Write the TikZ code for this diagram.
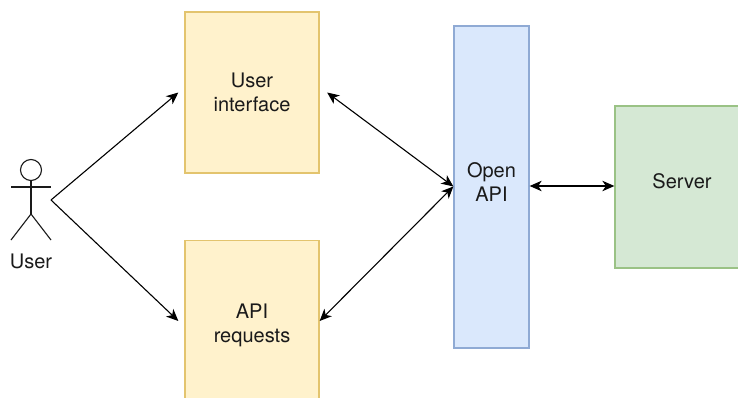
\documentclass[tikz,border=0pt]{standalone}
\usepackage{fontspec}
\setmainfont{TeX Gyre Heros}
\usetikzlibrary{arrows.meta}
\definecolor{yfill}{HTML}{FFF2CC}
\definecolor{ydraw}{HTML}{E3C46E}
\definecolor{bfill}{HTML}{DAE8FC}
\definecolor{bdraw}{HTML}{8FAAD4}
\definecolor{gfill}{HTML}{D5E8D4}
\definecolor{gdraw}{HTML}{9AC285}
\definecolor{ink}{HTML}{1A1A1A}
\tikzset{
  x=1pt,y=-1pt,
  tip/.tip={Stealth[length=12pt,width=10.5pt,inset=3.5pt]},
  caption/.style={align=center,text=ink,inner sep=0pt,font=\fontsize{20}{24}\selectfont},
  box/.style={draw,line width=1.3pt,inner sep=0pt},
  yellowbox/.style={box,fill=yfill,draw=ydraw,minimum width=134pt,minimum height=161pt},
  link/.style={line width=1.1pt,draw=black,tip-tip},
  oneway/.style={line width=1.1pt,draw=black,-tip},
  actorline/.style={line width=1.1pt,draw=ink},
}
\begin{document}
\begin{tikzpicture}
\clip (0,0) rectangle (738,398);
\node[yellowbox,label={[caption]center:User\\interface}] (ui) at (252,92.5) {};
\node[yellowbox,label={[caption,yshift=-4pt]center:API\\requests}] (req) at (252,321) {};
\node[box,fill=bfill,draw=bdraw,minimum width=75pt,minimum height=322pt,label={[caption,yshift=5pt]center:Open\\API}] (api) at (491.5,187) {};
\node[box,fill=gfill,draw=gdraw,minimum width=134pt,minimum height=162pt,label={[caption,yshift=6pt]center:Server}] (srv) at (682,187) {};
% actor
\node[circle,draw=ink,line width=1.1pt,minimum size=21pt,inner sep=0pt] (head) at (31,170) {};
\coordinate (armL) at (11,187);
\coordinate (armR) at (51,187);
\coordinate (hip) at (31,214);
\coordinate (footL) at (11,240);
\coordinate (footR) at (51,240);
\coordinate (hand) at (51,200);
\draw[actorline] (head.south) -- (hip);
\draw[actorline] (armL) -- (armR);
\draw[actorline] (footL) -- (hip) -- (footR);
\node[caption] (userlabel) at (31,261) {User};
% connectors
\draw[oneway] (hand) -- ([xshift=-6pt]ui.west);
\draw[oneway] (hand) -- ([xshift=-6pt]req.west);
\draw[link] ([xshift=7.5pt]ui.east) -- ([yshift=0.5pt]api.west);
\draw[link] (req.east) -- ([yshift=0.5pt]api.west);
\draw[link] ([yshift=1pt]api.east) -- ([yshift=1pt]srv.west);
\end{tikzpicture}
\end{document}
